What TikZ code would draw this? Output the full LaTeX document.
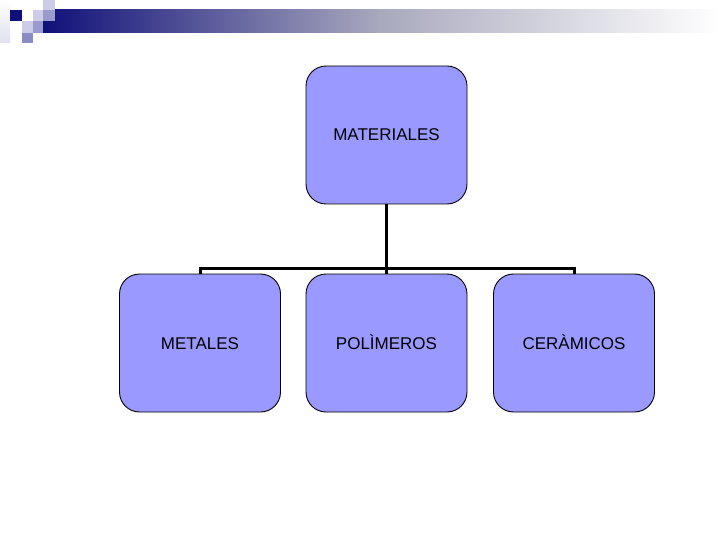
\documentclass[tikz,border=0pt]{standalone}
\usepackage{fontspec}
\setmainfont{Liberation Sans}
\begin{document}
\begin{tikzpicture}[x=1pt,y=-1pt,
  box/.style={draw=black,line width=0.9pt,fill=boxfill,rounded corners=20pt,minimum width=161pt,minimum height=138pt,inner sep=0pt,text height=12pt,text depth=0pt,font=\fontsize{17}{19}\selectfont},
  link/.style={line width=3pt,black}]
\definecolor{boxfill}{HTML}{9999FF}
\definecolor{navy}{HTML}{10107A}
\definecolor{lav1}{HTML}{CCCCE8}
\definecolor{lav2}{HTML}{9A9ACC}
\definecolor{lav3}{HTML}{8A8AC4}
\useasboundingbox (0,0) rectangle (720,540);
\fill[white] (0,0) rectangle (720,540);
% header decoration
\shade[left color=navy,right color=white,middle color=navy!40!gray!50!white] (43,10) rectangle (720,33);
\shade[top color=white,bottom color=lav1!60] (0,0) rectangle (10,43);
\fill[navy] (10,10) rectangle (22,21);
\fill[lav1] (33,10) rectangle (43,21);
\fill[lav1] (43,0) rectangle (55,10);
\fill[lav2] (43,10) rectangle (55,21);
\fill[lav1] (22,21) rectangle (33,33);
\fill[lav2] (33,21) rectangle (43,33);
\fill[lav3] (22,33) rectangle (33,43);
% boxes
\node[box] (mat) at (386.5,135) {MATERIALES};
\node[box] (met) at (200,343) {METALES};
\node[box] (pol) at (386.5,343) {POLÌMEROS};
\node[box] (cer) at (574,343) {CERÀMICOS};
% connectors
\coordinate (j) at (386.5,268);
\draw[link] (mat.south) -- (j);
\draw[link] (met.north) -- (met.north |- j) -- (cer.north |- j) -- (cer.north);
\draw[link] (j) -- (pol.north);
\end{tikzpicture}
\end{document}
